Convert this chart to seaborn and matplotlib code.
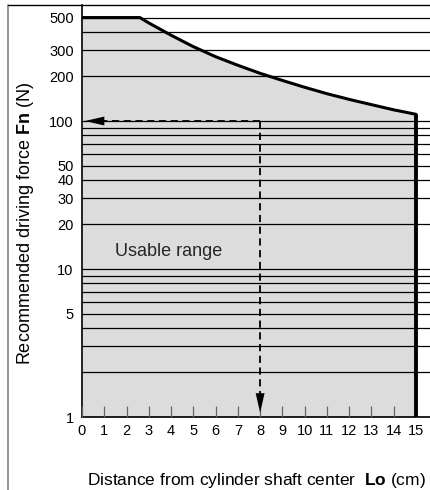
import matplotlib
matplotlib.use('Agg')
import matplotlib.pyplot as plt
from matplotlib.lines import Line2D
from matplotlib.ticker import FixedLocator, FixedFormatter, NullFormatter
import seaborn as sns
import pandas as pd

# boundary of the usable range
distance_cm = [0, 2.6, 3.0, 3.5, 4, 5, 6, 7, 8, 9, 10, 11, 12, 13, 14, 15]
force_n = [500, 500, 460, 418, 380, 318, 272, 238, 210, 188, 169, 153, 140, 129, 119, 111]

y_tick_values = [1, 5, 10, 20, 30, 40, 50, 100, 200, 300, 500]
y_grid_extra = [2, 3, 4, 6, 7, 8, 9, 60, 70, 80, 90, 400]
x_tick_values = list(range(0, 16))
x_grid_values = [2, 4, 6, 8, 10, 12, 14]

# worked example: Lo = 8 cm -> Fn = 100 N
example_lo = 8
example_fn = 100
max_lo = 15

sns.set_theme(style='ticks')
plt.rcParams['font.family'] = ['Liberation Sans', 'DejaVu Sans']
plt.rcParams['mathtext.fontset'] = 'custom'
plt.rcParams['mathtext.rm'] = 'Liberation Sans'
plt.rcParams['mathtext.bf'] = 'Liberation Sans:bold'

df = pd.DataFrame({'Lo': distance_cm, 'Fn': force_n})

fig = plt.figure(figsize=(4.3, 4.9), dpi=100)
ax = fig.add_axes([82 / 430, 1 - 417 / 490, 348 / 430, 412 / 490])
ax.set_yscale('log')

# shaded usable range
ax.fill_between(df['Lo'], 1, df['Fn'], color='#dcdcdc', lw=0, zorder=1)
sns.lineplot(data=df, x='Lo', y='Fn', ax=ax, color='black', lw=2.2, zorder=5)
ax.plot([max_lo, max_lo], [1, force_n[-1]], color='black', lw=2.8,
        solid_capstyle='butt', zorder=5)

# dashed reading arrows
dash = (0, (4, 2.5))
ax.plot([example_lo, 1.0], [example_fn, example_fn], color='black', lw=1.3, ls=dash, zorder=4)
ax.plot([example_lo, example_lo], [example_fn, 1.43], color='black', lw=1.3, ls=dash, zorder=4)
ax.annotate('', xy=(0.13, example_fn), xytext=(1.0, example_fn),
            arrowprops=dict(arrowstyle='-|>,head_length=1.4,head_width=0.32',
                            color='black', lw=0, shrinkA=0, shrinkB=0, mutation_scale=10),
            zorder=4)
ax.annotate('', xy=(example_lo, 1.07), xytext=(example_lo, 1.43),
            arrowprops=dict(arrowstyle='-|>,head_length=1.4,head_width=0.32',
                            color='black', lw=0, shrinkA=0, shrinkB=0, mutation_scale=10),
            zorder=4)

ax.text(1.48, 13.2, 'Usable range', fontsize=13, ha='left', va='center', zorder=3,
        bbox=dict(boxstyle='square,pad=0.45', fc='#dcdcdc', ec='none'))

# axes, ticks and grid
ax.set_xlim(0, 15.63)
ax.set_ylim(1, 608)
ax.yaxis.set_major_locator(FixedLocator(y_tick_values))
ax.yaxis.set_major_formatter(FixedFormatter([str(v) for v in y_tick_values]))
ax.yaxis.set_minor_locator(FixedLocator(y_grid_extra))
ax.yaxis.set_minor_formatter(NullFormatter())
ax.set_xticks(x_tick_values)
ax.set_xticks(x_grid_values, minor=True)

ax.set_axisbelow(False)
ax.grid(True, which='both', axis='y', color='black', lw=0.9)
ax.grid(True, which='minor', axis='x', color='black', lw=0.9)
ax.grid(False, which='major', axis='x')

ax.tick_params(axis='y', which='both', length=0, pad=6, labelsize=10.5, colors='black')
ax.tick_params(axis='x', which='major', direction='in', length=8, width=0.9,
               color='0.4', pad=5, labelsize=10.5, labelcolor='black')
ax.tick_params(axis='x', which='minor', length=0)

ax.spines['top'].set_visible(False)
ax.spines['right'].set_visible(False)
for side in ['left', 'bottom']:
    ax.spines[side].set_color('black')
    ax.spines[side].set_linewidth(1.2)

ax.set_xlabel(r'Distance from cylinder shaft center  $\mathbf{Lo}$ (cm)', fontsize=12.5,
              color='black', va='baseline')
ax.set_ylabel(r'Recommended driving force $\mathbf{Fn}$ (N)', fontsize=13, color='black')
ax.xaxis.set_label_coords(0.5, -0.164)
ax.yaxis.set_label_coords(-0.133, 0.47)

# outer frame of the figure
fig.add_artist(Line2D([8 / 430, 8 / 430], [0, 1 - 5 / 490], color='0.5', lw=1.2,
                      transform=fig.transFigure))
fig.add_artist(Line2D([8 / 430, 1], [1 - 5 / 490, 1 - 5 / 490], color='black', lw=1,
                      transform=fig.transFigure))

fig.savefig('out.png', dpi=100)
